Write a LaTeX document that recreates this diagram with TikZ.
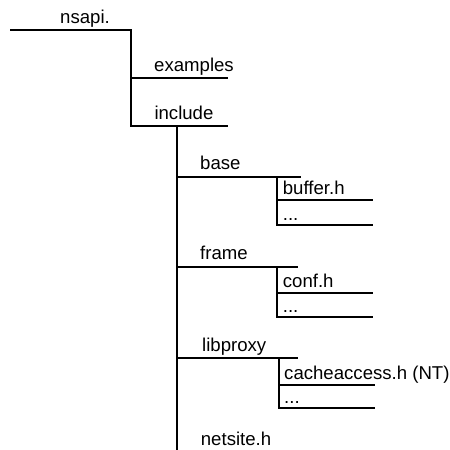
\documentclass[tikz,border=0pt]{standalone}
\usepackage{fontspec}
\setmainfont{Liberation Sans}
\begin{document}
\begin{tikzpicture}[x=1pt,y=-1pt,
  branch/.style={line width=2pt},
  lbl/.style={anchor=base west,inner sep=0pt,font=\fontsize{18.6}{20}\selectfont}]
\useasboundingbox (0,0) rectangle (450,450);

% ---- root directory
\coordinate (root-a) at (10,30);
\coordinate (root-b) at (131,30);
\node[lbl] (nsapi) at (60,23) {nsapi.};

% ---- first level
\coordinate (ex-a) at (131,77.7);
\coordinate (ex-b) at (228,77.7);
\coordinate (inc-a) at (131,126);
\coordinate (inc-b) at (228,126);
\node[lbl] (examples) at (154,71.5) {examples};
\node[lbl] (include) at (154.3,119.3) {include};

\draw[branch] (root-a) -- (root-b) -- (inc-a) -- (inc-b);
\draw[branch] (ex-a) -- (ex-b);

% ---- contents of include
\coordinate (incv-top) at (176.7,126);
\coordinate (incv-bot) at (176.7,455);
\draw[branch] (incv-top) -- (incv-bot);

\coordinate (base-a) at (176.7,176.7);
\coordinate (base-b) at (300.7,176.7);
\coordinate (frame-a) at (176.7,266.7);
\coordinate (frame-b) at (298.3,266.7);
\coordinate (lib-a) at (176.7,358.3);
\coordinate (lib-b) at (298.3,358.3);
\node[lbl] (base) at (200,169.5) {base};
\node[lbl] (frame) at (200,259.3) {frame};
\node[lbl] (libproxy) at (202,351) {libproxy};
\node[lbl] (netsite) at (200.7,445.5) {netsite.h};
\draw[branch] (base-a) -- (base-b);
\draw[branch] (frame-a) -- (frame-b);
\draw[branch] (lib-a) -- (lib-b);

% ---- base
\coordinate (bv-top) at (276.7,176.7);
\coordinate (buf-a) at (276.7,200);
\coordinate (buf-b) at (372.7,200);
\coordinate (bdot-a) at (276.7,225);
\coordinate (bdot-b) at (373,225);
\node[lbl] (buffer) at (282.7,194.5) {buffer.h};
\node[lbl] (bdots) at (282.7,220) {...};
\draw[branch] (bv-top) -- (bdot-a) -- (bdot-b);
\draw[branch] (buf-a) -- (buf-b);

% ---- frame
\coordinate (fv-top) at (276.7,266.7);
\coordinate (conf-a) at (276.7,292.7);
\coordinate (conf-b) at (373,292.7);
\coordinate (fdot-a) at (276.7,317.3);
\coordinate (fdot-b) at (373,317.3);
\node[lbl] (conf) at (282.7,287) {conf.h};
\node[lbl] (fdots) at (282.7,312.5) {...};
\draw[branch] (fv-top) -- (fdot-a) -- (fdot-b);
\draw[branch] (conf-a) -- (conf-b);

% ---- libproxy
\coordinate (lv-top) at (279,358.3);
\coordinate (cache-a) at (279,385);
\coordinate (cache-b) at (375,385);
\coordinate (ldot-a) at (279,408.3);
\coordinate (ldot-b) at (375,408.3);
\node[lbl] (cache) at (284,379) {cacheaccess.h (NT)};
\node[lbl] (ldots) at (284,403.5) {...};
\draw[branch] (lv-top) -- (ldot-a) -- (ldot-b);
\draw[branch] (cache-a) -- (cache-b);
\end{tikzpicture}
\end{document}
